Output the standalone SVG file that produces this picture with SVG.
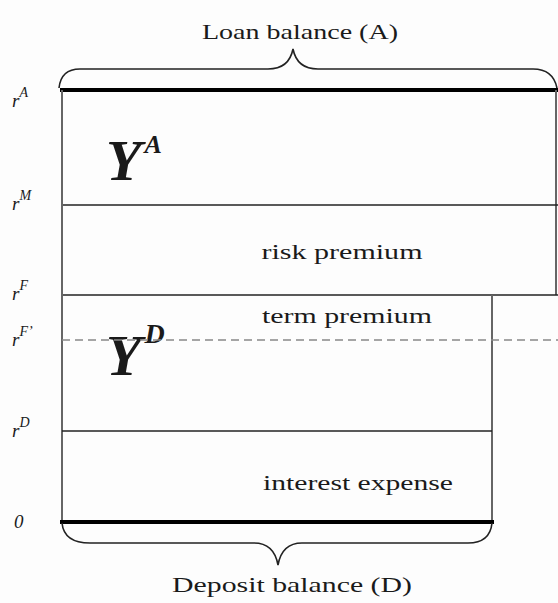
<svg xmlns="http://www.w3.org/2000/svg" width="558" height="603" viewBox="0 0 558 603">
<style>
  text { font-family: 'Liberation Serif', 'Times New Roman', serif; fill: #1a1a1a; }
  .lab { font-size: 22px; }
  .ax { font-size: 19px; font-style: italic; }
  .sup { font-size: 14px; font-style: italic; }
  .big { font-size: 58px; font-weight: bold; font-style: italic; }
  .thin { stroke: #222; stroke-width: 1.5; fill: none; }
  .gray { stroke: #666; stroke-width: 2; fill: none; }
  .thick { stroke: #000; stroke-width: 4; fill: none; }
  .dash { stroke: #888; stroke-width: 1.5; stroke-dasharray: 8 5; fill: none; }
  .brace { stroke: #222; stroke-width: 1.6; fill: none; }
</style>
<rect width="558" height="603" fill="#fdfdfd"/>

<g id="loan-box">
  <line class="thick" x1="60" y1="90" x2="558" y2="90"/>
  <line class="gray" x1="556" y1="90" x2="556" y2="295"/>
  <line class="thin" x1="62" y1="205" x2="558" y2="205"/>
  <line class="thin" x1="62" y1="295" x2="558" y2="295"/>
  <text class="big" x="106" y="180">Y<tspan font-size="26" dx="3" dy="-27">A</tspan></text>
  <text class="lab" x="342" y="259" text-anchor="middle" textLength="161" lengthAdjust="spacingAndGlyphs">risk premium</text>
</g>

<g id="deposit-box">
  <line class="gray" x1="62" y1="90" x2="62" y2="522"/>
  <line class="gray" x1="492" y1="295" x2="492" y2="522"/>
  <line class="thin" x1="62" y1="431" x2="492" y2="431"/>
  <line class="thick" x1="60" y1="522" x2="494" y2="522"/>
  <text class="big" x="106" y="375">Y<tspan font-size="28" dx="3" dy="-32">D</tspan></text>
  <text class="lab" x="347" y="323" text-anchor="middle" textLength="170" lengthAdjust="spacingAndGlyphs">term premium</text>
  <text class="lab" x="358" y="490" text-anchor="middle" textLength="190" lengthAdjust="spacingAndGlyphs">interest expense</text>
</g>

<g id="connectors">
  <line class="dash" x1="62" y1="340" x2="558" y2="340"/>
  <path class="brace" d="M59,88 Q61,69 80,69 L268,69 Q289,69 293,49 Q297,69 318,69 L533,69 Q553,69 557,88"/>
  <path class="brace" d="M62,523 Q64,543 90,543 L254,543 Q274,543 278,565 Q282,543 302,543 L468,543 Q490,543 492,523"/>
</g>

<g id="titles">
  <text class="lab" x="300" y="39" text-anchor="middle" textLength="196" lengthAdjust="spacingAndGlyphs">Loan balance (A)</text>
  <text class="lab" x="292" y="592" text-anchor="middle" textLength="240" lengthAdjust="spacingAndGlyphs">Deposit balance (D)</text>
</g>

<g id="axis-labels">
  <text class="ax" x="12" y="107">r<tspan class="sup" dy="-10">A</tspan></text>
  <text class="ax" x="12" y="210">r<tspan class="sup" dy="-10">M</tspan></text>
  <text class="ax" x="12" y="300">r<tspan class="sup" dy="-10">F</tspan></text>
  <text class="ax" x="12" y="346">r<tspan class="sup" dy="-10">F’</tspan></text>
  <text class="ax" x="12" y="437">r<tspan class="sup" dy="-10">D</tspan></text>
  <text class="ax" x="14" y="528">0</text>
</g>
</svg>
